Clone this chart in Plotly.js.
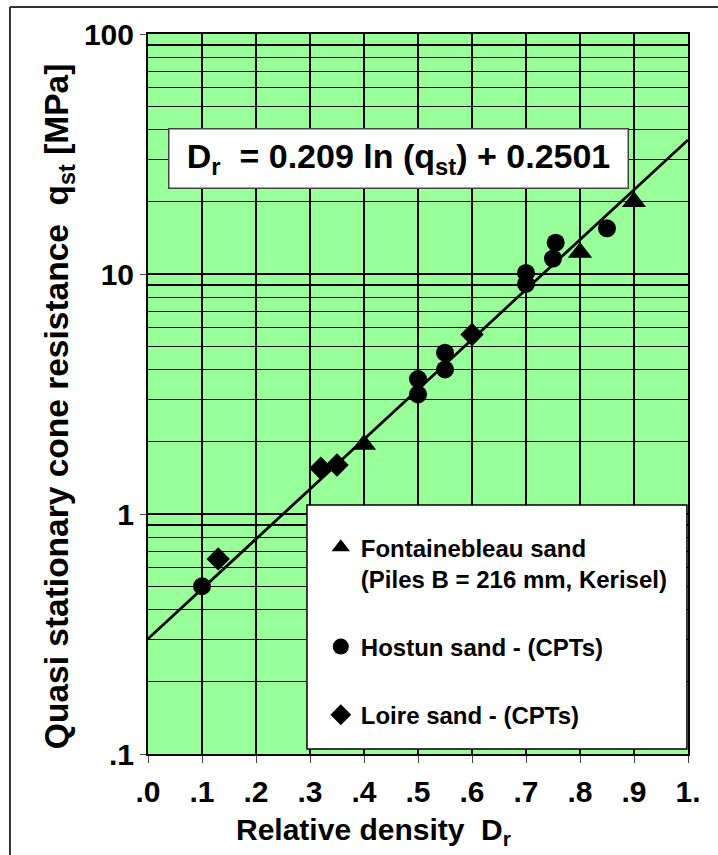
<!DOCTYPE html>
<html>
<head>
<meta charset="utf-8">
<script src="https://cdn.plot.ly/plotly-3.0.1.min.js"></script>
<style>
  html, body { margin: 0; padding: 0; background: #fff; }
  #chart { width: 718px; height: 855px; }
</style>
</head>
<body>
<div id="chart"></div>
<script>
// ---- data ----
const fontX = [0.4, 0.8, 0.9];
const fontY = [1.95, 12.3, 20];
const hostX = [0.1, 0.5, 0.5, 0.55, 0.55, 0.7, 0.7, 0.75, 0.755, 0.85];
const hostY = [0.5, 3.65, 3.15, 4.7, 4.0, 10.1, 9.1, 11.6, 13.5, 15.5];
const loireX = [0.13, 0.32, 0.35, 0.6];
const loireY = [0.65, 1.55, 1.6, 5.6];
const fitX = [0, 1];
const fitY = [0.302, 36.2];

const xTickVals = [0, 0.1, 0.2, 0.3, 0.4, 0.5, 0.6, 0.7, 0.8, 0.9, 1.0];
const xTickText = ['.0', '.1', '.2', '.3', '.4', '.5', '.6', '.7', '.8', '.9', '1.'];
const yTickVals = [0.1, 1, 10, 100];
const yTickText = ['.1', '1', '10', '100'];
const yMinorVals = [0.2,0.3,0.4,0.5,0.6,0.7,0.8,0.9, 2,3,4,5,6,7,8,9, 20,30,40,50,60,70,80,90];

const legendNames = ['Fontainebleau sand<br>(Piles B = 216 mm, Kerisel)', 'Hostun sand - (CPTs)', 'Loire sand - (CPTs)'];
const eqText = 'D<sub>r</sub> \u00A0= 0.209 ln (q<sub>st</sub>) + 0.2501';
const xTitle = 'Relative density \u00A0D<sub>r</sub>';
const yTitle = 'Quasi stationary cone resistance \u00A0q<sub>st</sub> [MPa]';

const FONT = 'Liberation Sans, Arial, sans-serif';

const traces = [
  { x: fitX, y: fitY, mode: 'lines', line: { color: 'black', width: 2.8 }, showlegend: false, hoverinfo: 'skip' },
  { x: fontX, y: fontY, mode: 'markers', name: legendNames[0], legendgroup: 'a',
    marker: { symbol: 'triangle-up', size: 21, color: 'black' } },
  { x: hostX, y: hostY, mode: 'markers', name: legendNames[1], legendgroup: 'b',
    marker: { symbol: 'circle', size: 18, color: 'black' } },
  { x: loireX, y: loireY, mode: 'markers', name: legendNames[2], legendgroup: 'c',
    marker: { symbol: 'diamond', size: 18, color: 'black' } }
];

const layout = {
  width: 718, height: 855,
  margin: { l: 148, r: 30, t: 34, b: 101 },
  paper_bgcolor: 'white',
  plot_bgcolor: '#99ff99',
  font: { family: FONT, size: 22, color: 'black', weight: 'bold' },
  showlegend: true,
  legend: {
    x: 0.32, y: 0.318, xanchor: 'left', yanchor: 'top',
    bgcolor: 'rgba(0,0,0,0)', borderwidth: 0,
    font: { family: FONT, size: 24, color: 'black', weight: 'bold' },
    traceorder: 'grouped', tracegroupgap: 34, valign: 'top'
  },
  xaxis: {
    range: [0, 1], tickmode: 'array', tickvals: xTickVals, ticktext: xTickText,
    showgrid: true, gridcolor: 'black', gridwidth: 1.3, zeroline: false,
    showline: true, linecolor: 'black', linewidth: 2, mirror: true,
    ticks: 'outside', ticklen: 7, tickcolor: '#444', tickwidth: 1,
    ticklabelstandoff: 3,
    tickfont: { family: FONT, size: 30, color: 'black', weight: 'bold' }
  },
  yaxis: {
    type: 'log', range: [-1, 2], tickmode: 'array', tickvals: yTickVals, ticktext: yTickText,
    showgrid: true, gridcolor: 'black', gridwidth: 1.3, zeroline: false,
    showline: true, linecolor: 'black', linewidth: 2, mirror: true,
    ticks: 'outside', ticklen: 6, tickcolor: '#444', tickwidth: 1,
    tickfont: { family: FONT, size: 30, color: 'black', weight: 'bold' },
    minor: { tickmode: 'array', tickvals: yMinorVals, showgrid: true, gridcolor: 'black', gridwidth: 1.3, ticks: '' }
  },
  shapes: [
    { type: 'rect', xref: 'paper', yref: 'paper', x0: 0.2944, x1: 0.998, y0: 0.0069, y1: 0.3458,
      fillcolor: 'white', line: { color: 'black', width: 1.5 }, layer: 'above' },
    { type: 'line', xref: 'paper', yref: 'paper', x0: -0.2556, x1: -0.2556, y0: 1.0375, y1: -0.15,
      line: { color: '#333', width: 2 } },
    { type: 'line', xref: 'paper', yref: 'paper', x0: -0.2556, x1: 1.06, y0: 1.0375, y1: 1.0375,
      line: { color: '#333', width: 2 } }
  ],
  annotations: [
    { xref: 'paper', yref: 'paper', x: 0.4639, y: 0.8271, xanchor: 'center', yanchor: 'middle',
      text: eqText, showarrow: false, bgcolor: 'white', bordercolor: '#444', borderwidth: 1.5,
      borderpad: 0, width: 458, height: 58,
      font: { family: FONT, size: 34, color: 'black', weight: 'bold' } },
    { xref: 'paper', yref: 'paper', x: 0.4185, y: -0.107, xanchor: 'center', yanchor: 'middle',
      text: xTitle, showarrow: false,
      font: { family: FONT, size: 30, color: 'black', weight: 'bold' } },
    { xref: 'paper', yref: 'paper', x: -0.165, y: 0.483, xanchor: 'center', yanchor: 'middle',
      text: yTitle, showarrow: false, textangle: -90,
      font: { family: FONT, size: 33.5, color: 'black', weight: 'bold' } }
  ]
};

Plotly.newPlot('chart', traces, layout, { displayModeBar: false, staticPlot: true });
</script>
</body>
</html>
